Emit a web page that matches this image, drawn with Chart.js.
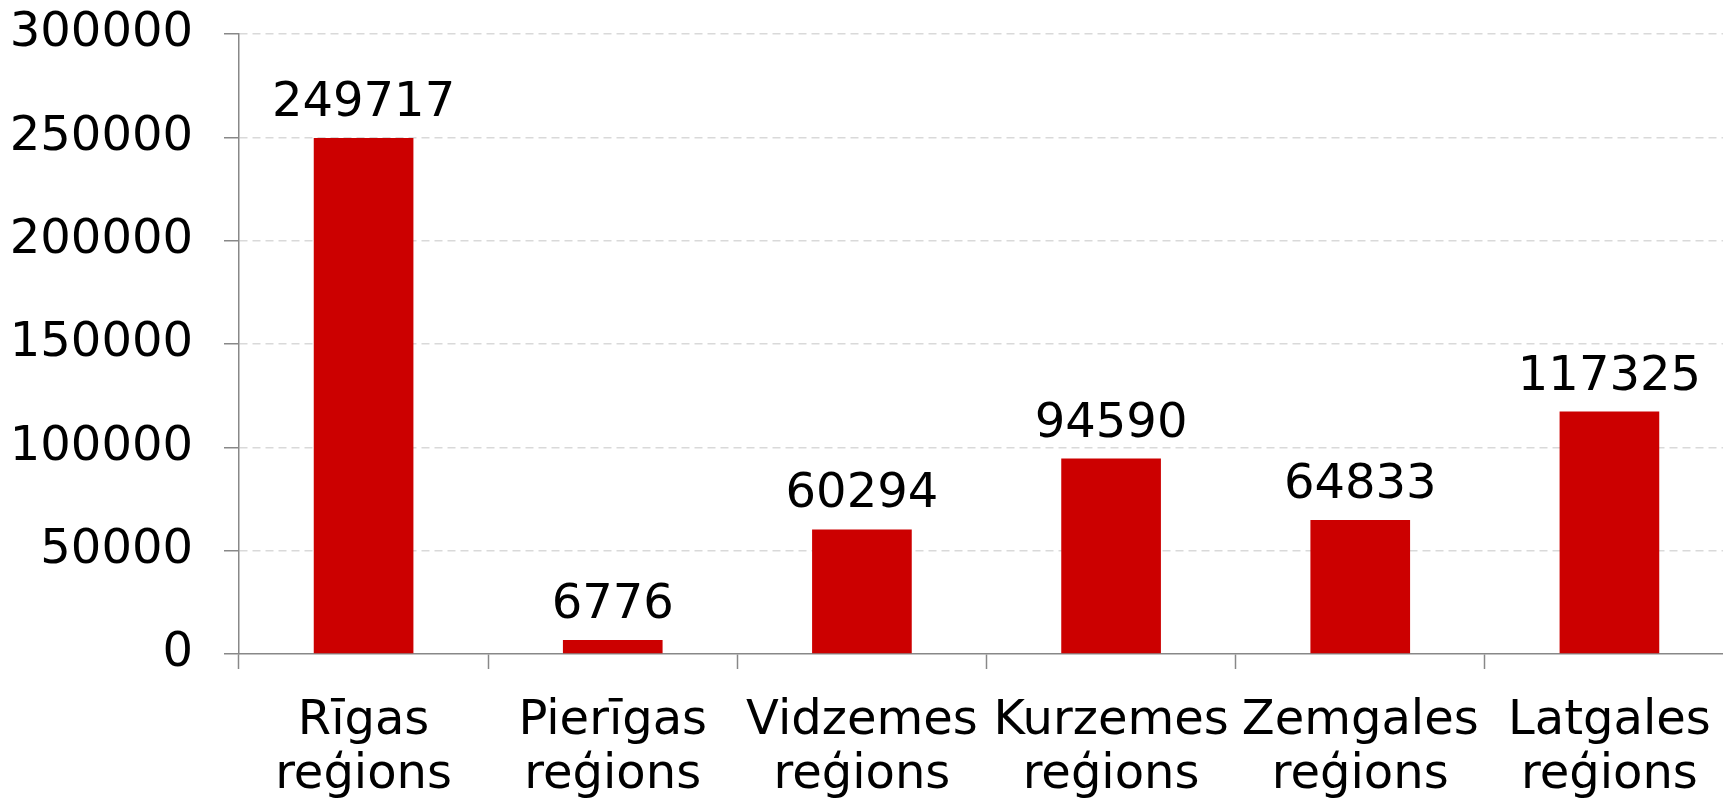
<!DOCTYPE html>
<html lang="lv">
<head>
    <meta charset="UTF-8">
    <title>Reģioni</title>
    <script src="https://cdn.jsdelivr.net/npm/chart.js"></script>
    <style>
        html, body {
            margin: 0;
            padding: 0;
            background: #ffffff;
            overflow: hidden;
        }
        .chart-container {
            position: relative;
            width: 1736px;
            height: 802px;
        }
    </style>
</head>
<body>
    <div class="chart-container">
        <canvas id="regionChart"></canvas>
    </div>

    <script>
        const regions = [
            ['Rīgas', 'reģions'],
            ['Pierīgas', 'reģions'],
            ['Vidzemes', 'reģions'],
            ['Kurzemes', 'reģions'],
            ['Zemgales', 'reģions'],
            ['Latgales', 'reģions']
        ];
        const values = [249717, 6776, 60294, 94590, 64833, 117325];
        const yTicks = [0, 50000, 100000, 150000, 200000, 250000, 300000];

        const fontFamily = "'DejaVu Sans', Verdana, sans-serif";

        // draws the value above each bar
        const valueLabels = {
            id: 'valueLabels',
            afterDatasetsDraw(chart) {
                const ctx = chart.ctx;
                const meta = chart.getDatasetMeta(0);
                ctx.save();
                ctx.font = '48px ' + fontFamily;
                ctx.fillStyle = '#000000';
                ctx.textAlign = 'center';
                ctx.textBaseline = 'alphabetic';
                meta.data.forEach((bar, i) => {
                    ctx.fillText(String(values[i]), bar.x, bar.y - 22);
                });
                ctx.restore();
            }
        };

        new Chart(document.getElementById('regionChart'), {
            type: 'bar',
            data: {
                labels: regions,
                datasets: [{
                    data: values,
                    backgroundColor: '#cc0000',
                    borderWidth: 0,
                    categoryPercentage: 1,
                    barPercentage: 0.4
                }]
            },
            options: {
                responsive: true,
                maintainAspectRatio: false,
                animation: false,
                layout: {
                    padding: { left: 0, top: 34, right: 2, bottom: 0 }
                },
                plugins: {
                    legend: { display: false },
                    tooltip: { enabled: false }
                },
                scales: {
                    x: {
                        afterFit(scale) {
                            scale.height = 148;
                        },
                        grid: {
                            display: true,
                            offset: true,
                            drawOnChartArea: false,
                            tickLength: 15,
                            tickColor: '#888888',
                            tickWidth: 1.5
                        },
                        border: { color: '#888888', width: 1.5 },
                        ticks: {
                            color: '#000000',
                            font: { family: fontFamily, size: 48, lineHeight: 1.13 },
                            padding: 25,
                            maxRotation: 0,
                            autoSkip: false
                        }
                    },
                    y: {
                        min: 0,
                        max: 300000,
                        afterBuildTicks(scale) {
                            scale.ticks = yTicks.map(v => ({ value: v }));
                        },
                        afterFit(scale) {
                            scale.width = 239;
                            scale.paddingTop = 0;
                            scale.paddingBottom = 0;
                        },
                        grid: {
                            color: (c) => c.tick && c.tick.value === 0 ? 'rgba(0,0,0,0)' : '#d9d9d9',
                            lineWidth: 1.5,
                            tickLength: 15,
                            tickColor: '#888888',
                            tickWidth: 1.5
                        },
                        border: { color: '#888888', width: 1.5, dash: [8, 5] },
                        ticks: {
                            color: '#000000',
                            font: { family: fontFamily, size: 48, lineHeight: 1.2 },
                            padding: 31,
                            callback: (v) => String(v)
                        }
                    }
                }
            },
            plugins: [valueLabels]
        });
    </script>
</body>
</html>
